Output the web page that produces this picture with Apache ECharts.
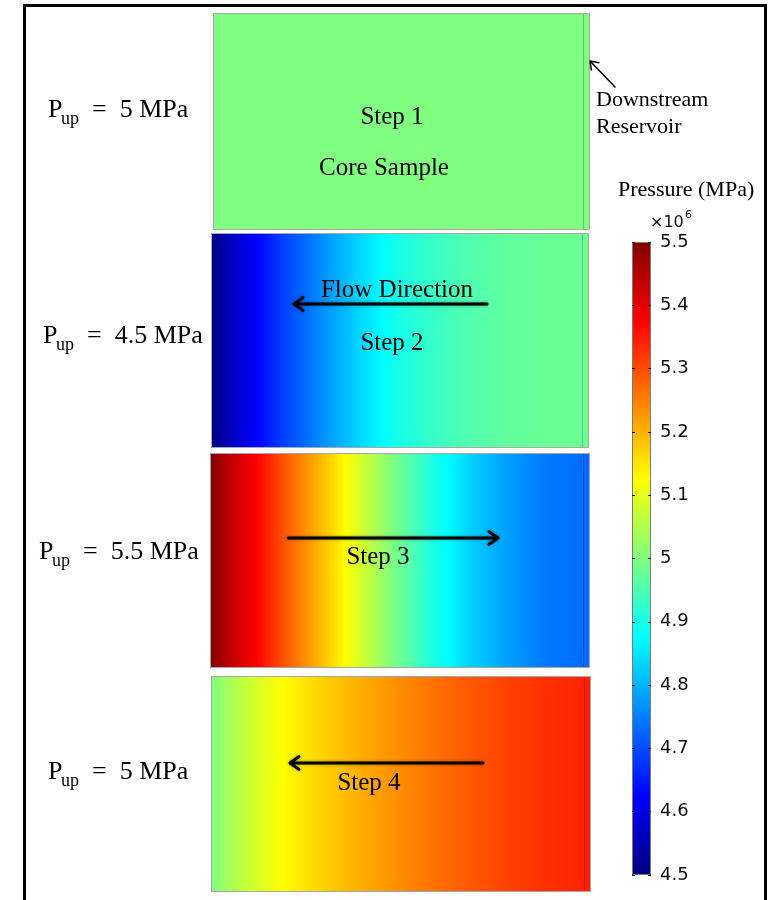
<!DOCTYPE html>
<html>
<head>
<meta charset="utf-8">
<script src="https://cdn.jsdelivr.net/npm/echarts@6/dist/echarts.min.js"></script>
<style>
  html, body { margin: 0; padding: 0; background: #fff; }
  #chart { width: 783px; height: 900px; }
</style>
</head>
<body>
<div id="chart"></div>
<script>
// Normalised distance along the core (0 = upstream face, 1 = downstream face)
const corePosition = [0, 0.05, 0.125, 0.2, 0.3, 0.4, 0.5, 0.6, 0.7, 0.8, 0.9, 1.0];

// Pore pressure along the core at the end of each step (MPa)
const step1Pressure = [5.0, 5.0, 5.0, 5.0, 5.0, 5.0, 5.0, 5.0, 5.0, 5.0, 5.0, 5.0];
const step2Pressure = [4.5, 4.56, 4.625, 4.69, 4.765, 4.835, 4.895, 4.93, 4.955, 4.97, 4.978, 4.98];
const step3Pressure = [5.5, 5.44, 5.375, 5.29, 5.19, 5.09, 4.99, 4.90, 4.83, 4.78, 4.745, 4.73];
const step4Pressure = [5.0, 5.04, 5.09, 5.13, 5.17, 5.205, 5.235, 5.265, 5.29, 5.31, 5.33, 5.34];

// Downstream reservoir pressure and upstream boundary pressure per step (MPa)
const reservoirPressure = [5.0, 4.98, 4.73, 5.345];
const upstreamPressure = [5, 4.5, 5.5, 5];
const stepNames = ['Step 1', 'Step 2', 'Step 3', 'Step 4'];

// Colour scale limits (MPa) and tick spacing
const colorbarRange = [4.5, 5.5];
const colorbarStep = 0.1;

const profiles = [step1Pressure, step2Pressure, step3Pressure, step4Pressure];

// Jet colour map on [colorbarRange]
const JET_KNOTS = [0, 0.125, 0.375, 0.625, 0.875, 1];
function jet(p) {
  let t = (p - colorbarRange[0]) / (colorbarRange[1] - colorbarRange[0]);
  t = Math.max(0, Math.min(1, t));
  const clamp = v => Math.max(0, Math.min(1, v));
  const r = t < 0.875 ? clamp((t - 0.375) / 0.25) : 1 - (t - 0.875) / 0.125 * 0.5;
  const g = clamp(Math.min((t - 0.125) / 0.25, (0.875 - t) / 0.25));
  const b = t < 0.125 ? 0.5 + t / 0.125 * 0.5 : clamp((0.625 - t) / 0.25);
  return 'rgb(' + Math.round(r * 255) + ',' + Math.round(g * 255) + ',' + Math.round(b * 255) + ')';
}
// Gradient stops between two pressures, with extra stops where the map has knots
function stopsBetween(p0, p1) {
  const stops = [{ offset: 0, color: jet(p0) }];
  const span = colorbarRange[1] - colorbarRange[0];
  JET_KNOTS.forEach(k => {
    const pk = colorbarRange[0] + k * span;
    if ((pk - p0) * (pk - p1) < 0) {
      stops.push({ offset: (pk - p0) / (p1 - p0), color: jet(pk) });
    }
  });
  stops.push({ offset: 1, color: jet(p1) });
  stops.sort((a, b) => a.offset - b.offset);
  return stops;
}

const reservoirWidth = 0.019;
const panelBoxes = [
  { left: 213, top: 13, width: 377, height: 217 },
  { left: 211, top: 233, width: 378, height: 215 },
  { left: 210, top: 453, width: 380, height: 215 },
  { left: 211, top: 676, width: 380, height: 216 }
];

const grids = [], xAxes = [], yAxes = [], series = [];

panelBoxes.forEach((box, i) => {
  grids.push(Object.assign({ containLabel: false }, box));
  xAxes.push({ gridIndex: i, type: 'value', min: 0, max: 1 + reservoirWidth, show: false });
  yAxes.push({ gridIndex: i, type: 'value', min: 0, max: 1, show: false });

  const prof = profiles[i];
  const segments = [];
  for (let k = 0; k < corePosition.length - 1; k++) {
    segments.push([corePosition[k], corePosition[k + 1], prof[k], prof[k + 1]]);
  }
  // Core sample: pressure profile between sampled positions
  series.push({
    type: 'custom', xAxisIndex: i, yAxisIndex: i, silent: true, z: 2,
    data: segments,
    renderItem: (params, api) => {
      const a = api.coord([api.value(0), 1]);
      const b = api.coord([api.value(1), 0]);
      const x0 = Math.round(a[0]), x1 = Math.round(b[0]);
      return {
        type: 'rect',
        shape: { x: x0, y: a[1], width: x1 - x0, height: b[1] - a[1] },
        style: {
          fill: new echarts.graphic.LinearGradient(0, 0, 1, 0, stopsBetween(api.value(2), api.value(3)))
        }
      };
    }
  });
  // Downstream reservoir strip and panel outline
  series.push({
    type: 'custom', xAxisIndex: i, yAxisIndex: i, silent: true, z: 3,
    data: [[1, 1 + reservoirWidth, reservoirPressure[i]]],
    renderItem: (params, api) => {
      const a = api.coord([api.value(0), 1]);
      const b = api.coord([api.value(1), 0]);
      const o = api.coord([0, 1]);
      const x0 = Math.round(a[0]);
      return {
        type: 'group',
        children: [
          { type: 'rect', shape: { x: x0, y: a[1], width: b[0] - x0, height: b[1] - a[1] },
            style: { fill: jet(api.value(2)) } },
          { type: 'line', shape: { x1: x0 + 0.5, y1: a[1], x2: x0 + 0.5, y2: b[1] },
            style: { stroke: 'rgba(0,0,0,0.22)', lineWidth: 1 } },
          { type: 'rect', shape: { x: o[0] + 0.5, y: o[1] + 0.5, width: b[0] - o[0] - 1, height: b[1] - o[1] - 1 },
            style: { fill: 'none', stroke: '#a8a8a8', lineWidth: 1 } }
        ]
      };
    }
  });
});

// Colour bar
const cbIndex = panelBoxes.length;
grids.push({ left: 632, top: 242, width: 19, height: 633 });
xAxes.push({ gridIndex: cbIndex, type: 'value', min: 0, max: 1, show: false });
const cbAxisBase = {
  gridIndex: cbIndex, type: 'value', min: colorbarRange[0], max: colorbarRange[1],
  interval: colorbarStep, z: 10, splitLine: { show: false }, axisLine: { show: false },
  axisTick: { show: true, inside: true, length: 3, lineStyle: { color: '#111', width: 1 } }
};
yAxes.push(Object.assign({}, cbAxisBase, { position: 'left', axisLabel: { show: false } }));
yAxes.push(Object.assign({}, cbAxisBase, {
  position: 'right',
  axisLabel: {
    show: true, margin: 9, fontSize: 18, fontFamily: 'DejaVu Sans', color: '#111',
    formatter: v => String(+v.toFixed(1))
  }
}));
series.push({
  type: 'custom', xAxisIndex: cbIndex, yAxisIndex: cbIndex, silent: true, z: 2,
  data: [[0, 1, colorbarRange[0], colorbarRange[1]]],
  renderItem: (params, api) => {
    const bl = api.coord([api.value(0), api.value(2)]);
    const tr = api.coord([api.value(1), api.value(3)]);
    const shape = { x: bl[0], y: tr[1], width: tr[0] - bl[0], height: bl[1] - tr[1] };
    return {
      type: 'group',
      children: [
        { type: 'rect', shape: shape,
          style: { fill: new echarts.graphic.LinearGradient(0, 1, 0, 0, stopsBetween(api.value(2), api.value(3))) } },
        { type: 'rect', shape: { x: shape.x + 0.5, y: shape.y + 0.5, width: shape.width - 1, height: shape.height - 1 },
          style: { fill: 'none', stroke: '#7a7a7a', lineWidth: 1 } }
      ]
    };
  }
});

// Annotation helpers
const SERIF = 'Liberation Serif';
function text(str, x, y, opts) {
  return {
    type: 'text', x: x, y: y, silent: true, z: 20,
    style: Object.assign({ text: str, fill: '#000', font: '25px "' + SERIF + '"', align: 'center', verticalAlign: 'middle' }, opts || {})
  };
}
function arrow(x1, y1, x2, y2, width, head) {
  const ang = Math.atan2(y2 - y1, x2 - x1);
  const spread = 0.62;
  const p1 = [x2 - head * Math.cos(ang - spread), y2 - head * Math.sin(ang - spread)];
  const p2 = [x2 - head * Math.cos(ang + spread), y2 - head * Math.sin(ang + spread)];
  const st = () => ({ stroke: '#000', lineWidth: width, lineCap: 'round', lineJoin: 'round', fill: 'none',
               shadowBlur: width > 2 ? 3 : 0, shadowColor: 'rgba(0,0,0,0.45)' });
  return [
    { type: 'line', silent: true, z: 20,
      shape: { x1: x1, y1: y1, x2: x2 - Math.cos(ang) * width * 0.5, y2: y2 - Math.sin(ang) * width * 0.5 }, style: st() },
    { type: 'polyline', silent: true, z: 20, shape: { points: [p1, [x2, y2], p2] }, style: st() }
  ];
}
function pupLabel(value, x, y) {
  return [
    text('P', x, y, { align: 'left', font: '26px "' + SERIF + '"' }),
    text('up', x + 13, y + 9, { align: 'left', font: '18px "' + SERIF + '"' }),
    text('=  ' + value + ' MPa', x + 44, y, { align: 'left', font: '26px "' + SERIF + '"' })
  ];
}

const graphics = [
  // outer frame
  { type: 'rect', silent: true, z: 30, shape: { x: 24.5, y: 5.5, width: 741, height: 900 },
    style: { fill: 'none', stroke: '#000', lineWidth: 3 } },
  text(stepNames[0], 392, 117),
  text('Core Sample', 384, 168),
  text('Flow Direction', 397, 290),
  text(stepNames[1], 392, 343),
  text(stepNames[2], 378, 557),
  text(stepNames[3], 369, 783),
  text('Downstream', 596, 100, { align: 'left', font: '22px "' + SERIF + '"' }),
  text('Reservoir', 596, 127, { align: 'left', font: '22px "' + SERIF + '"' }),
  text('Pressure (MPa)', 618, 190, { align: 'left', font: '22px "' + SERIF + '"' }),
  text('\u00d710', 650, 223, { align: 'left', font: '16px "DejaVu Sans"', fill: '#111' }),
  text('6', 685, 215, { align: 'left', font: '11px "DejaVu Sans"', fill: '#111' })
]
  .concat(arrow(487, 304, 294, 304, 3, 11))
  .concat(arrow(288, 538, 498, 538, 3, 11))
  .concat(arrow(483, 763, 290, 763, 3, 11))
  .concat(arrow(615, 87, 590, 61, 1.5, 9))
  .concat(pupLabel(upstreamPressure[0], 48, 110))
  .concat(pupLabel(upstreamPressure[1], 43, 336))
  .concat(pupLabel(upstreamPressure[2], 39, 552))
  .concat(pupLabel(upstreamPressure[3], 48, 772));

const chart = echarts.init(document.getElementById('chart'), null, { renderer: 'canvas' });
chart.setOption({
  animation: false,
  backgroundColor: '#ffffff',
  grid: grids,
  xAxis: xAxes,
  yAxis: yAxes,
  series: series,
  graphic: graphics
});
</script>
</body>
</html>
